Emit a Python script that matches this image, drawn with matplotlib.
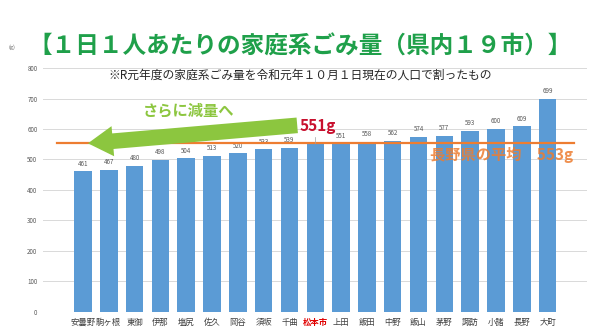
import matplotlib
matplotlib.use("Agg")
import matplotlib.pyplot as plt

plt.rcParams['font.family'] = ['Noto Sans CJK JP', 'DejaVu Sans']

cities = ["安曇野", "駒ヶ根", "東御", "伊那", "塩尻", "佐久", "岡谷", "須坂", "千曲",
          "松本市", "上田", "飯田", "中野", "飯山", "茅野", "諏訪", "小諸", "長野", "大町"]
grams = [461, 467, 480, 498, 504, 513, 520, 533, 539,
         551, 551, 558, 562, 574, 577, 593, 600, 609, 699]
highlight = "松本市"
pref_avg = 553
yticks = [0, 100, 200, 300, 400, 500, 600, 700, 800]

BLUE = '#5b9bd5'
ORANGE = '#ed7d31'
GREEN = '#1fa04a'
LIGHT_GREEN = '#8cc63f'

fig = plt.figure(figsize=(6.0, 3.29), dpi=100, facecolor='white')
ax = fig.add_axes([0.0717, 0.0517, 0.9067, 0.7416])

x = list(range(len(cities)))
ax.bar(x, grams, width=0.68, color=BLUE, zorder=2)
for xi, v, c in zip(x, grams, cities):
    if c == highlight:
        continue
    ax.text(xi, v + 12, str(v), ha='center', va='bottom', fontsize=4.5, color='#595959')

ax.set_xlim(-1.55, len(cities) - 1 + 1.53)
ax.set_ylim(0, 800)
ax.set_yticks(yticks)
ax.set_yticklabels([str(t) for t in yticks], fontsize=4.5, color='#595959')
ax.set_xticks(x)
ax.set_xticklabels(cities, fontsize=6, color='#404040')
for lbl in ax.get_xticklabels():
    if lbl.get_text() == highlight:
        lbl.set_color('#e00000')
        lbl.set_fontweight('bold')
ax.tick_params(axis='both', length=0, pad=4)
ax.grid(axis='y', color='#d9d9d9', lw=0.7, zorder=0)
for s in ax.spines.values():
    s.set_visible(False)

# prefecture average line
ax.plot([-1.0, 19.03], [pref_avg, pref_avg], color=ORANGE, lw=1.6, zorder=3)
ax.text(19.0, pref_avg - 12, "長野県の平均　553g", ha='right', va='top', fontsize=11,
        fontweight='bold', color=ORANGE, alpha=0.85, zorder=4)

# Matsumoto value
mi = cities.index(highlight)
ax.text(mi - 0.62, grams[mi] + 33, f"{grams[mi]}g", ha='left', va='bottom', fontsize=11,
        fontweight='bold', color='#c8102e', zorder=4)
ax.plot([mi, mi], [grams[mi] + 4, grams[mi] + 24], color='#a0a0a0', lw=0.5, zorder=4)

# arrow: further reduction
ax.annotate("", xy=(0.19, pref_avg), xytext=(8.3, 612),
            arrowprops=dict(arrowstyle="simple,head_length=1.2,head_width=1.45,tail_width=0.75",
                            mutation_scale=15, color=LIGHT_GREEN, lw=0,
                            shrinkA=0, shrinkB=0),
            zorder=5)
ax.text(4.1, 662, "さらに減量へ", ha='center', va='center', fontsize=11, fontweight='bold',
        color=LIGHT_GREEN, zorder=5)

fig.text(0.5, 0.858, "【１日１人あたりの家庭系ごみ量（県内１９市）】", ha='center', va='center',
         fontsize=17, fontweight='bold', color=GREEN)
fig.text(0.5, 0.772, "※R元年度の家庭系ごみ量を令和元年１０月１日現在の人口で割ったもの",
         ha='center', va='center', fontsize=8.5, color='#262626')
fig.text(0.02, 0.855, "(g)", ha='center', va='center', fontsize=4, color='#595959')

fig.savefig("out.png", dpi=100, facecolor='white')
